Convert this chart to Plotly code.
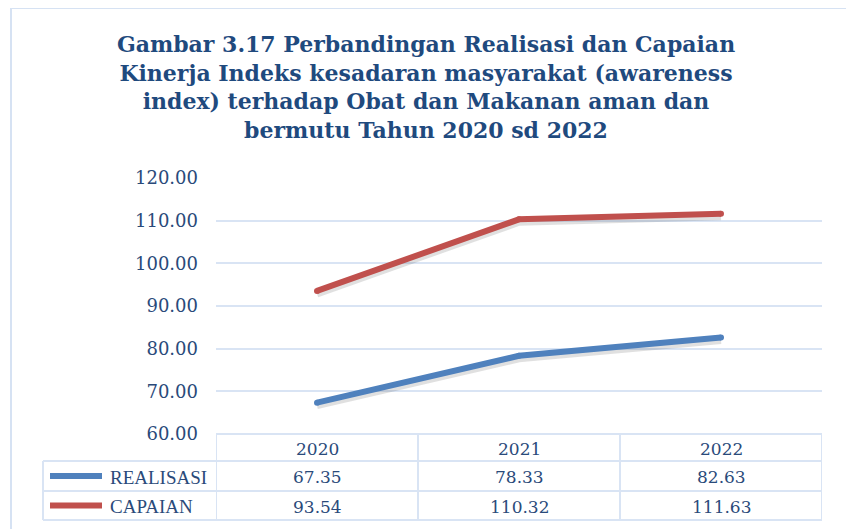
import plotly.graph_objects as go

years = ["2020", "2021", "2022"]
realisasi = [67.35, 78.33, 82.63]
capaian = [93.54, 110.32, 111.63]
series_names = ["REALISASI", "CAPAIAN"]
series_colors = ["#4F81BD", "#C0504D"]
title_text = ("Gambar 3.17 Perbandingan Realisasi dan Capaian<br>"
              "Kinerja Indeks kesadaran masyarakat (awareness<br>"
              "index) terhadap Obat dan Makanan aman dan<br>"
              "bermutu Tahun 2020 sd 2022")

OFF = 8  # browser body margin
W, H = 854 - OFF, 529 - OFF
L, R, T, B = 216 - OFF, 32, 178 - OFF, 95
PW, PH = W - L - R, H - T - B
TXT = "#2A4A7A"
GRID = "#D9E4F4"

def px(xp):  # reference pixel -> paper x
    return (xp - OFF - L) / PW

def py(yp):  # reference pixel -> paper y
    return (H - B - (yp - OFF)) / PH

fig = go.Figure()
series = [realisasi, capaian]
xi = list(range(len(years)))
shadow_off = 0.7
for vals in series:
    fig.add_trace(go.Scatter(
        x=xi, y=[v - shadow_off for v in vals], mode="lines",
        line=dict(color="rgba(60,60,60,0.16)", width=7),
        hoverinfo="skip", showlegend=False))
for name, vals, col in zip(series_names, series, series_colors):
    fig.add_trace(go.Scatter(
        x=xi, y=vals, mode="lines+markers", name=name,
        line=dict(color=col, width=6),
        marker=dict(color=col, size=6),
        showlegend=False))

shapes = []
# outer chart frame (left + top)
shapes.append(dict(type="line", xref="paper", yref="paper",
                   x0=px(11), x1=px(11), y0=py(8), y1=py(560),
                   line=dict(color="#D6E2F3", width=2)))
shapes.append(dict(type="line", xref="paper", yref="paper",
                   x0=px(11), x1=px(900), y0=py(8), y1=py(8),
                   line=dict(color="#D6E2F3", width=2)))

row_edges = [434, 461, 491, 520]
shapes.append(dict(type="line", xref="x", yref="paper", x0=-0.5, x1=len(years) - 0.5,
                   y0=py(row_edges[0]), y1=py(row_edges[0]),
                   line=dict(color=GRID, width=2)))
for ye in row_edges[1:]:
    shapes.append(dict(type="line", xref="paper", yref="paper", x0=px(43), x1=1,
                       y0=py(ye), y1=py(ye), line=dict(color=GRID, width=2)))
for i in range(len(years) + 1):
    shapes.append(dict(type="line", xref="x", yref="paper", x0=i - 0.5, x1=i - 0.5,
                       y0=py(row_edges[0]), y1=py(row_edges[-1]),
                       line=dict(color=GRID, width=2)))
shapes.append(dict(type="line", xref="paper", yref="paper", x0=px(43), x1=px(43),
                   y0=py(row_edges[1]), y1=py(row_edges[-1]),
                   line=dict(color=GRID, width=2)))

annotations = []
hdr_y = (row_edges[0] + row_edges[1]) / 2 + 1
for i, yr in enumerate(years):
    annotations.append(dict(x=i, y=py(hdr_y), xref="x", yref="paper", text=yr,
                            xanchor="center", yanchor="middle", showarrow=False,
                            font=dict(family="DejaVu Serif", size=17, color=TXT)))
for r, (name, vals, col) in enumerate(zip(series_names, series, series_colors)):
    cy = (row_edges[r + 1] + row_edges[r + 2]) / 2 + 1
    shapes.append(dict(type="line", xref="paper", yref="paper", x0=px(50), x1=px(102),
                       y0=py(cy - 1), y1=py(cy - 1), line=dict(color=col, width=6)))
    annotations.append(dict(x=px(108), y=py(cy), xref="paper", yref="paper", text=name,
                            xanchor="left", yanchor="middle", showarrow=False,
                            font=dict(family="Liberation Serif", size=19, color=TXT)))
    for i, v in enumerate(vals):
        annotations.append(dict(x=i, y=py(cy), xref="x", yref="paper", text=f"{v:.2f}",
                                xanchor="center", yanchor="middle", showarrow=False,
                                font=dict(family="DejaVu Serif", size=17, color=TXT)))

fig.update_layout(
    width=W, height=H,
    margin=dict(l=L, r=R, t=T, b=B),
    paper_bgcolor="white", plot_bgcolor="white",
    title=dict(text="<b>" + title_text + "</b>", x=(426 - OFF) / W, xref="container",
               xanchor="center", y=1 - 44 / H, yref="container", yanchor="top",
               font=dict(family="DejaVu Serif", size=22, color="#1F4A7E")),
    xaxis=dict(range=[-0.5, len(years) - 0.5], showticklabels=False,
               showgrid=False, zeroline=False, showline=False),
    yaxis=dict(range=[60, 120], dtick=10, tickformat=".2f", showgrid=True, gridcolor=GRID,
               gridwidth=2, zeroline=False, showline=False, ticks="",
               ticklabelstandoff=17,
               tickfont=dict(family="DejaVu Serif", size=18, color=TXT)),
    shapes=shapes, annotations=annotations,
)

fig.write_html("out.html")
